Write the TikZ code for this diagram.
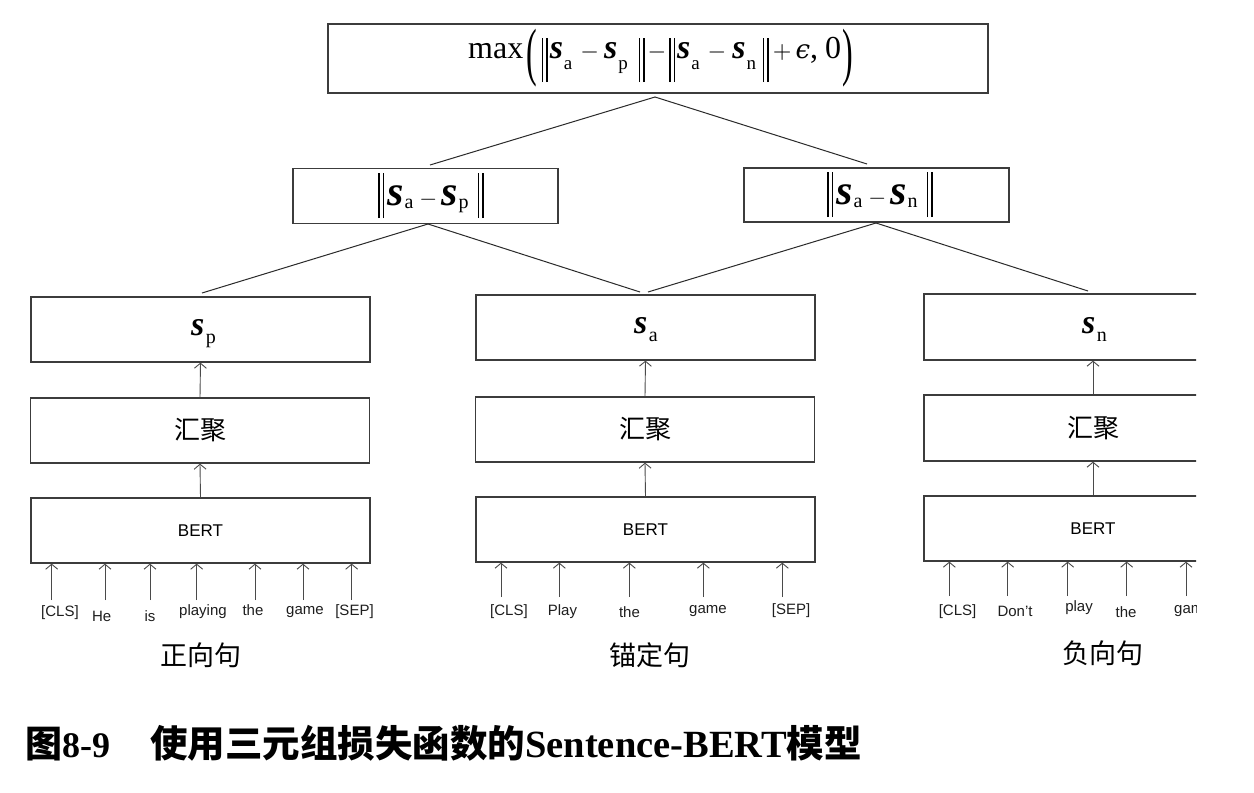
\documentclass[tikz,border=0pt]{standalone}
\usepackage{amsmath}
\usepackage{mathptmx}
\usepackage[no-math]{fontspec}
\setmainfont{Liberation Serif}
\setsansfont{Liberation Sans}
\newfontfamily\cjk{Noto Sans CJK SC}
\newfontfamily\dvs{DejaVu Serif}
\usetikzlibrary{arrows.meta}
\definecolor{boxc}{HTML}{3C3C3C}
\definecolor{linec}{HTML}{2A2A2A}
\definecolor{arrc}{HTML}{4A4A4A}
\definecolor{tokc}{HTML}{1E1E1E}
% top formula pieces
\newcommand\dbarT{\rule[-24pt]{1.4pt}{44pt}\hspace{3pt}\rule[-24pt]{1.4pt}{44pt}}
\newcommand\svT[1]{{\fontsize{34}{34}\selectfont\bfseries\itshape s}\hspace{1pt}\raisebox{-11pt}{\fontsize{19}{19}\selectfont #1}}
\newcommand\opT[1]{{\fontsize{24}{24}\selectfont$#1$}}
% middle formula pieces
\newcommand\dbarM{\rule[-13pt]{1.5pt}{45pt}\hspace{3pt}\rule[-13pt]{1.5pt}{45pt}}
\newcommand\svM[1]{{\fontsize{42}{42}\selectfont\bfseries\itshape s}\hspace{1pt}\raisebox{-3pt}{\fontsize{20}{20}\selectfont #1}}
\newcommand\opM[1]{{\fontsize{23}{23}\selectfont$#1$}}
% column labels
\newcommand\svC[1]{{\fontsize{34}{34}\selectfont\bfseries\itshape s}\hspace{1.5pt}\raisebox{-8pt}{\fontsize{20}{20}\selectfont #1}}
\newcommand\normM[2]{\dbarM\hspace{3pt}\svM{#1}\hspace{6pt}\opM{-}\hspace{4pt}\svM{#2}\hspace{9pt}\dbarM}
\tikzset{
  box/.style={draw=boxc, line width=1.3pt, minimum width=339pt, minimum height=65pt, inner sep=0pt},
  lossbox/.style={draw=boxc, line width=1.3pt, minimum width=265pt, minimum height=55pt, inner sep=0pt},
  link/.style={draw=linec, line width=1pt},
  up/.style={draw=arrc, line width=0.9pt, -{Straight Barb[length=5pt,width=12pt]}},
  tok/.style={font=\sffamily\fontsize{15}{18}\selectfont, text=tokc, inner sep=0pt},
  cjklab/.style={font=\cjk\fontsize{26}{30}\selectfont, inner sep=0pt},
  collab/.style={font=\cjk\fontsize{27}{30}\selectfont, inner sep=0pt},
  bertlab/.style={font=\sffamily\fontsize{17}{20}\selectfont},
  flabel/.style={inner sep=0pt, font=\fontsize{32}{36}\selectfont}
}
\begin{document}
\begin{tikzpicture}[x=1pt,y=-1pt]
\useasboundingbox (0,0) rectangle (1254,793);
\fill[white] (0,0) rectangle (1254,793);

% top loss
\node[draw=boxc, line width=1.3pt, minimum width=660pt, minimum height=69pt, inner sep=0pt] (top) at (658,58.5) {};
\node[flabel, anchor=base west] (topf) at (468,58)
  {max\hspace{3pt}\raisebox{-15pt}{\scalebox{1}[2]{(}}\hspace{5pt}\dbarT\hspace{2pt}\svT{a}\hspace{8pt}\opT{-}\hspace{5pt}\svT{p}\hspace{11pt}\dbarT\hspace{3pt}\opT{-}\hspace{3pt}\dbarT\hspace{2pt}\svT{a}\hspace{8pt}\opT{-}\hspace{6pt}\svT{n}\hspace{7pt}\dbarT\hspace{4pt}\opT{+}\hspace{4pt}{\dvs\itshape\fontsize{26}{26}\selectfont ϵ},\hspace{7pt}0\hspace{1pt}\raisebox{-15pt}{\scalebox{1}[2]{)}}};

\node[lossbox] (dp) at (425.5,196) {};
\node[flabel, anchor=base west] (dpf) at (378,205) {\normM{a}{p}};
\node[lossbox, minimum height=54pt] (dn) at (876.5,195) {};
\node[flabel, anchor=base west] (dnf) at (827,204) {\normM{a}{n}};

\coordinate (apex0) at (655,97);
\coordinate (dpTop) at (430,165);
\coordinate (dnTop) at (867,164);
\draw[link] (dpTop) -- (apex0) -- (dnTop);

% left column
\node[box] (sp) at (200.5,329.5) {};
\node[flabel, anchor=base west] (spf) at (191,335) {\svC{p}};
\node[box, cjklab] (pp) at (200,430.5) {汇聚};
\node[box, bertlab] (bp) at (200.5,530.5) {BERT};
\draw[up] (pp.north) -- (sp.south);
\draw[up] (bp.north) -- (pp.south);

% middle column
\node[box] (sa) at (645.5,327.5) {};
\node[flabel, anchor=base west] (saf) at (634,333) {\svC{a}};
\node[box, cjklab] (pa) at (645,429.5) {汇聚};
\node[box, bertlab] (ba) at (645.5,529.5) {BERT};
\draw[up] (pa.north) -- (sa.south);
\draw[up] (ba.north) -- (pa.south);

\coordinate (apex1) at (428,224);
\coordinate (spTop) at (202,293);
\coordinate (saTopL) at (640,292);
\draw[link] (spTop) -- (apex1) -- (saTopL);
\coordinate (apex2) at (876,223);
\coordinate (saTopR) at (648,292);
\coordinate (snTop) at (1088,291);

% tokens, left
\foreach \n/\ax/\lx/\ly/\t in {1/51.7/60/613/{[CLS]},2/105/101.7/616/He,3/150/150/616/is,4/196.7/203/612/playing,5/255/253/610/the,6/303/305/612/game,7/351.7/354.5/612/{[SEP]}}{
  \node[tok] (lt\n) at (\lx,\ly) {\t};
  \coordinate (la\n) at (\ax,600);
  \draw[up] (la\n) -- (la\n |- bp.south);
}
\node[collab] (lpos) at (201,655) {正向句};

% tokens, middle
\foreach \n/\ax/\lx/\ly/\t in {1/501/509/612/{[CLS]},2/559.3/562.5/612/Play,3/629.3/629.5/612/the,4/703.3/708/611/game,5/782.3/791/611/{[SEP]}}{
  \node[tok] (mt\n) at (\lx,\ly) {\t};
  \coordinate (ma\n) at (\ax,597);
  \draw[up] (ma\n) -- (ma\n |- ba.south);
}
\node[collab] (lanc) at (650,655) {锚定句};

% right column (cropped)
\begin{scope}
\clip (0,0) rectangle (1196,793);
\draw[link] (saTopR) -- (apex2) -- (snTop);
\node[box, minimum width=338pt, minimum height=66pt] (sn) at (1093,327) {};
\node[flabel, anchor=base west] (snf) at (1082,333) {\svC{n}};
\node[box, cjklab, minimum width=338pt, minimum height=66pt] (pn) at (1093,428) {汇聚};
\node[box, bertlab, minimum width=338pt] (bn) at (1093,528.5) {BERT};
\draw[up] (pn.north) -- (sn.south);
\draw[up] (bn.north) -- (pn.south);
\foreach \n/\ax/\lx/\ly/\t in {1/949.3/957.5/612/{[CLS]},2/1007.7/1015/611/Don’t,3/1067.7/1079/608/play,4/1126.7/1126/612/the,5/1186/1193/611/game}{
  \node[tok] (rt\n) at (\lx,\ly) {\t};
  \coordinate (ra\n) at (\ax,596);
  \draw[up] (ra\n) -- (ra\n |- bn.south);
}
\node[collab] (lneg) at (1103,653) {负向句};
\end{scope}

% caption
\node[anchor=base west, inner sep=0pt, font=\fontsize{36}{40}\selectfont\bfseries] (capA) at (25,757) {{\cjk\fontsize{37}{40}\selectfont 图}8-9};
\node[anchor=base west, inner sep=0pt, font=\fontsize{38.5}{42}\selectfont\bfseries] (capB) at (150,757) {{\cjk\fontsize{37.5}{42}\selectfont 使用三元组损失函数的}Sentence-BERT{\cjk\fontsize{37.5}{42}\selectfont 模型}};
\end{tikzpicture}
\end{document}
